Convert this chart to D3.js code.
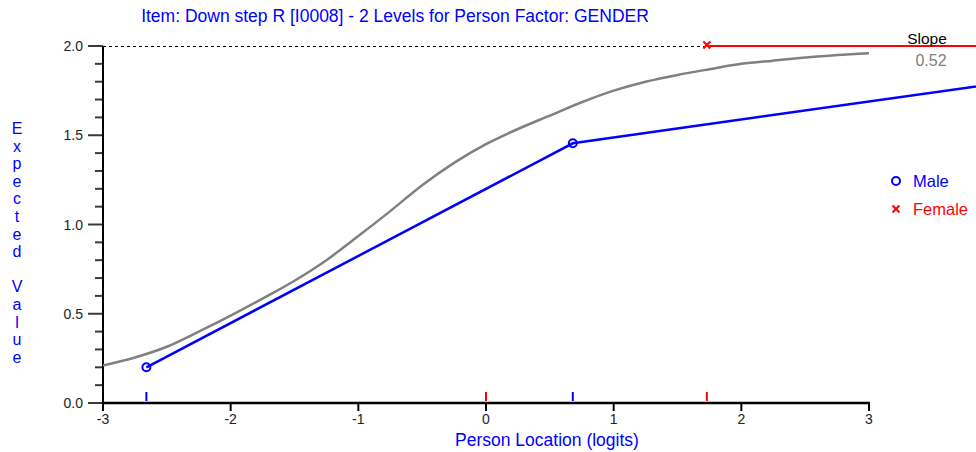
<!DOCTYPE html>
<html>
<head>
<meta charset="utf-8">
<script src="https://cdn.jsdelivr.net/npm/d3@7.9.0/dist/d3.min.js"></script>
<style>
  body { margin: 0; background: #fff; }
  svg { display: block; font-family: "Liberation Sans", Arial, sans-serif; }
</style>
</head>
<body>
<svg id="chart" width="976" height="452"></svg>
<script>
// Expected value curve
const logits = [-3, -2.75, -2.5, -2.25, -2, -1.75, -1.5, -1.25, -1, -0.75, -0.5, -0.25,
  0, 0.25, 0.5, 0.75, 1, 1.25, 1.5, 1.75, 2, 2.25, 2.5, 2.75, 3];
const expected = [0.21, 0.255, 0.315, 0.4, 0.49, 0.585, 0.685, 0.8, 0.935, 1.075, 1.22, 1.345,
  1.45, 1.535, 1.61, 1.685, 1.75, 1.8, 1.838, 1.87, 1.9, 1.918, 1.935, 1.95, 1.96];

// observed class means per group
const maleLoc = [-2.66, 0.68, 4.0];
const maleObs = [0.2, 1.455, 1.79];
const maleMarked = 2; // markers on first two points only
const femaleLoc = [1.73, 4.0];
const femaleObs = [2.0, 2.0];
const femaleMarked = 1;

// group mean ticks along the x axis
const maleTicks = [-2.66, 0.68];
const femaleTicks = [0, 1.73];

const xTicks = [-3, -2, -1, 0, 1, 2, 3];
const yTicks = [0, 0.5, 1, 1.5, 2];
const yMinor = d3.range(0, 21).map(i => i / 10);
const slope = '0.52';
const groups = ['Male', 'Female'];

const blue = '#0000ff';
const red = '#ff0000';
const grey = '#808080';

const svg = d3.select('#chart');
const x = d3.scaleLinear().domain([-3, 3]).range([103, 869]);
const y = d3.scaleLinear().domain([0, 2]).range([403, 46]);

// title
svg.append('text')
  .attr('x', 395).attr('y', 22)
  .attr('text-anchor', 'middle')
  .attr('font-size', 17.5)
  .attr('fill', blue)
  .text('Item: Down step R [I0008] - 2 Levels for Person Factor: GENDER');

// dashed line at max expected value
svg.append('line')
  .attr('x1', x(-3)).attr('x2', 976)
  .attr('y1', y(2) + 0.5).attr('y2', y(2) + 0.5)
  .attr('stroke', '#000').attr('stroke-dasharray', '3,3');

// y axis ticks (minor every 0.1)
const isMajor = d => yTicks.some(t => Math.abs(t - d) < 1e-9);
svg.append('g').selectAll('line').data(yMinor).join('line')
  .attr('x1', d => x(-3) - (isMajor(d) ? 15 : 8))
  .attr('x2', x(-3))
  .attr('y1', d => y(d)).attr('y2', d => y(d))
  .attr('stroke', '#3a3a3a').attr('stroke-width', 2);
svg.append('g').selectAll('text').data(yTicks).join('text')
  .attr('x', 83).attr('y', d => y(d) + 5)
  .attr('text-anchor', 'end')
  .attr('font-size', 14).attr('fill', '#222')
  .text(d3.format('.1f'));
svg.append('line')
  .attr('x1', x(-3)).attr('x2', x(-3))
  .attr('y1', y(2)).attr('y2', y(0) + 1)
  .attr('stroke', '#000').attr('stroke-width', 2);

// x axis
svg.append('g').selectAll('line').data(xTicks).join('line')
  .attr('x1', d => x(d)).attr('x2', d => x(d))
  .attr('y1', y(0)).attr('y2', y(0) + 8)
  .attr('stroke', '#000').attr('stroke-width', 2);
svg.append('g').selectAll('text').data(xTicks).join('text')
  .attr('x', d => x(d)).attr('y', y(0) + 21)
  .attr('text-anchor', 'middle')
  .attr('font-size', 14).attr('fill', '#222')
  .text(d => String(d));
svg.append('line')
  .attr('x1', x(-3) - 1).attr('x2', x(3) + 1)
  .attr('y1', y(0)).attr('y2', y(0))
  .attr('stroke', '#000').attr('stroke-width', 2.5);

// group mean ticks
const meanTick = (vals, color) => svg.append('g').selectAll('line')
  .data(vals).join('line')
  .attr('x1', d => x(d)).attr('x2', d => x(d))
  .attr('y1', y(0) - 11).attr('y2', y(0) - 2)
  .attr('stroke', color).attr('stroke-width', 2);
meanTick(maleTicks, blue);
meanTick(femaleTicks, red);

// expected curve
const line = d3.line().x(d => x(d[0])).y(d => y(d[1])).curve(d3.curveMonotoneX);
svg.append('path')
  .datum(d3.zip(logits, expected))
  .attr('d', line)
  .attr('fill', 'none').attr('stroke', grey).attr('stroke-width', 2.5);

// observed lines
const obsLine = d3.line().x(d => x(d[0])).y(d => y(d[1]));
svg.append('path')
  .datum(d3.zip(maleLoc, maleObs))
  .attr('d', obsLine)
  .attr('fill', 'none').attr('stroke', blue).attr('stroke-width', 2.5);
svg.append('path')
  .datum(d3.zip(femaleLoc, femaleObs))
  .attr('d', obsLine)
  .attr('fill', 'none').attr('stroke', red).attr('stroke-width', 2);

// markers
const circle = (g, cx, cy) => g.append('circle')
  .attr('cx', cx).attr('cy', cy).attr('r', 4)
  .attr('fill', 'none').attr('stroke', blue).attr('stroke-width', 2);
const cross = (g, cx, cy) => g.append('path')
  .attr('d', `M${cx - 3.5},${cy - 3.5}L${cx + 3.5},${cy + 3.5}M${cx - 3.5},${cy + 3.5}L${cx + 3.5},${cy - 3.5}`)
  .attr('stroke', red).attr('stroke-width', 2);

const marks = svg.append('g');
d3.zip(maleLoc, maleObs).slice(0, maleMarked)
  .forEach(d => circle(marks, x(d[0]), y(d[1])));
d3.zip(femaleLoc, femaleObs).slice(0, femaleMarked)
  .forEach(d => cross(marks, x(d[0]), y(d[1]) - 1));

// slope
svg.append('text').attr('x', 927).attr('y', 44).attr('text-anchor', 'middle')
  .attr('font-size', 15.5).attr('fill', '#000').text('Slope');
svg.append('text').attr('x', 931).attr('y', 66).attr('text-anchor', 'middle')
  .attr('font-size', 16).attr('fill', grey).text(slope);

// legend
const leg = svg.append('g');
circle(leg, 896, 181);
cross(leg, 896, 209);
groups.forEach((g, i) => {
  leg.append('text').attr('x', 913).attr('y', 187 + i * 28)
    .attr('font-size', 16.5).attr('fill', i === 0 ? blue : red).text(g);
});

// axis titles
svg.append('text').attr('x', 547).attr('y', 446).attr('text-anchor', 'middle')
  .attr('font-size', 17.5).attr('fill', blue).text('Person Location (logits)');

const yLabel = 'Expected Value'.split('');
svg.append('g').selectAll('text').data(yLabel).join('text')
  .attr('x', 17).attr('y', (d, i) => 134 + i * 17.6)
  .attr('text-anchor', 'middle')
  .attr('font-size', 16).attr('fill', blue)
  .text(d => d);
</script>
</body>
</html>
